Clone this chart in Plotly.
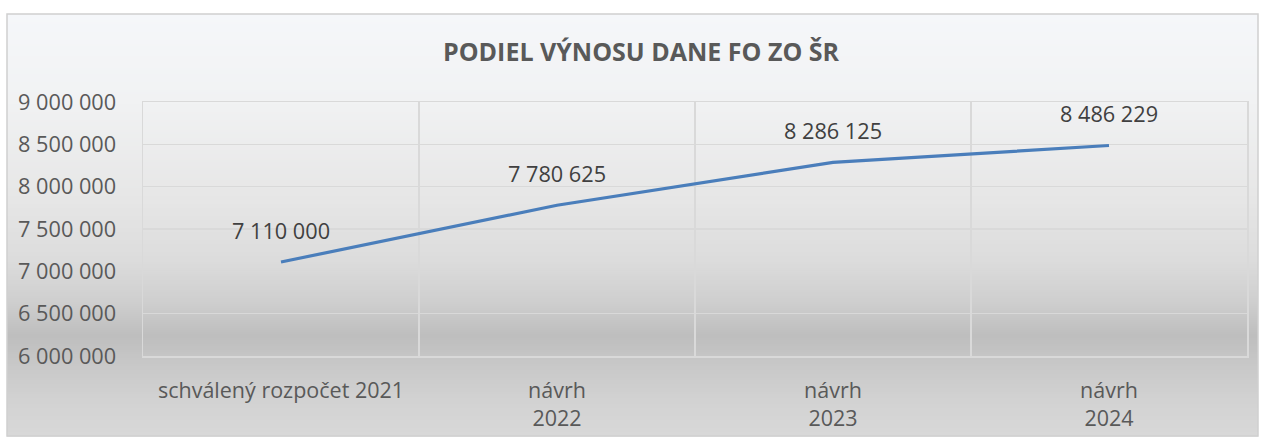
import plotly.graph_objects as go

# ---- data ----
categories = ["schválený rozpočet 2021", "návrh<br>2022", "návrh<br>2023", "návrh<br>2024"]
values = [7110000, 7780625, 8286125, 8486229]
title_text = "PODIEL VÝNOSU DANE FO ZO ŠR"
y_ticks = [6000000, 6500000, 7000000, 7500000, 8000000, 8500000, 9000000]

W, H = 1263, 439
ML, MR, MT, MB = 143, 16, 102, 83
PW = W - ML - MR
PH = H - MT - MB

def px_to_paper_x(px):
    return (px - ML) / PW

def px_to_paper_y(py):
    return (H - MB - py) / PH

def fmt(v):
    return f"{v:,}".replace(",", " ")

# gradient background stops (pixel y, rgb)
stops = [(14, (245, 247, 250)), (100, (241, 242, 243)), (200, (230, 230, 230)),
         (260, (220, 220, 220)), (300, (207, 207, 207)), (336, (190, 190, 190)),
         (365, (200, 200, 200)), (400, (210, 210, 210)), (436, (216, 216, 216))]

def color_at(py):
    for (y0, c0), (y1, c1) in zip(stops[:-1], stops[1:]):
        if y0 <= py <= y1:
            t = (py - y0) / (y1 - y0)
            return "rgb(%d,%d,%d)" % tuple(round(a + (b - a) * t) for a, b in zip(c0, c1))
    return "rgb(%d,%d,%d)" % stops[-1][1]

shapes = []
step = 2
for py in range(14, 436, step):
    shapes.append(dict(type="rect", xref="paper", yref="paper", layer="below",
                       x0=px_to_paper_x(7), x1=px_to_paper_x(1258),
                       y0=px_to_paper_y(py + step + 0.5), y1=px_to_paper_y(py),
                       line=dict(width=0), fillcolor=color_at(py + step / 2)))
# outer border
shapes.append(dict(type="rect", xref="paper", yref="paper", layer="above",
                   x0=px_to_paper_x(7), x1=px_to_paper_x(1258),
                   y0=px_to_paper_y(436), y1=px_to_paper_y(14),
                   line=dict(width=1.5, color="#d0d0d0"), fillcolor="rgba(0,0,0,0)"))

FONT = "Open Sans"
GRID = "#d9d9d9"
fig = go.Figure()
fig.add_trace(go.Scatter(x=categories, y=values, mode="lines",
                         line=dict(color="#4a7ebb", width=3.2),
                         hoverinfo="skip", showlegend=False))

annotations = [dict(x=c, y=v, xref="x", yref="y", text=fmt(v), showarrow=False,
                    yshift=32, font=dict(family=FONT, size=21.7, color="#404040"))
               for c, v in zip(categories, values)]
annotations.append(dict(x=px_to_paper_x(641), y=px_to_paper_y(51), xref="paper", yref="paper",
                        xanchor="center", yanchor="middle",
                        text="<b>" + title_text + "</b>", showarrow=False,
                        font=dict(family=FONT, size=25, color="#595959")))

fig.update_layout(
    width=W, height=H,
    margin=dict(l=ML, r=MR, t=MT, b=MB, pad=0, autoexpand=False),
    paper_bgcolor="white",
    plot_bgcolor="rgba(0,0,0,0)",
    separators=", ",
    shapes=shapes,
    annotations=annotations,
    xaxis=dict(type="category", tickson="boundaries", range=[-0.5, 3.5], automargin=False,
               showgrid=True, gridcolor=GRID, gridwidth=1.5, ticks="",
               showline=True, mirror=True, linecolor=GRID, linewidth=1.5, zeroline=False,
               tickfont=dict(family=FONT, size=21.5, color="#595959"),
               ticklabelstandoff=15),
    yaxis=dict(range=[6000000, 9000000], tickvals=y_ticks, ticktext=[fmt(t) for t in y_ticks],
               automargin=False,
               showgrid=True, gridcolor=GRID, gridwidth=1.5, zeroline=False, ticks="",
               showline=True, mirror=True, linecolor=GRID, linewidth=1.5,
               tickfont=dict(family=FONT, size=21.7, color="#595959"),
               ticklabelstandoff=21),
)

fig.write_html("out.html", config={"displayModeBar": False, "staticPlot": True},
               post_script="document.body.style.margin='0';document.body.style.overflow='hidden';")
